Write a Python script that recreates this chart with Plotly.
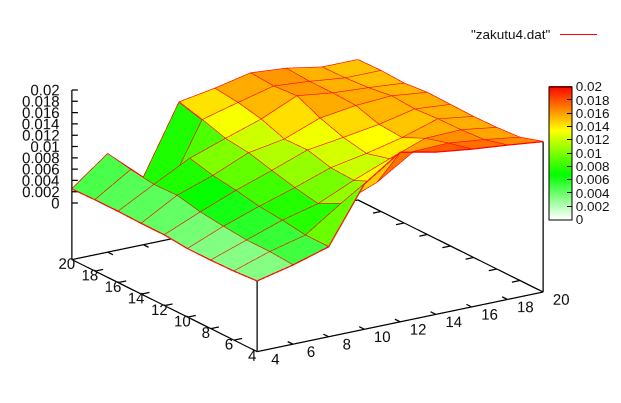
import plotly.graph_objects as go

x_values = [4, 6, 8, 10, 12, 14, 16, 18, 20]
y_values = [4, 6, 8, 10, 12, 14, 16, 18, 20]
# one row per x value, one column per y value
z_x4 = [.0025, .0022, .0021, .0021, .0025, .0025, .0026, .0026, .0025]
z_x6 = [.0040, .0043, .0043, .0047, .0052, .0061, .0060, .0066, .0074]
z_x8 = [.0059, .0059, .0065, .0069, .0077, .0083, .0093, .0011, .0019]
z_x10 = [.0157, .0102, .0081, .0089, .0099, .0110, .0115, .0128, .0139]
z_x12 = [.0200, .0127, .0109, .0111, .0122, .0121, .0136, .0145, .0150]
z_x14 = [.0187, .0167, .0134, .0123, .0131, .0145, .0164, .0161, .0164]
z_x16 = [.0179, .0169, .0157, .0138, .0141, .0154, .0156, .0156, .0159]
z_x18 = [.0173, .0162, .0159, .0158, .0155, .0158, .0152, .0149, .0148]
z_x20 = [.0166, .0153, .0150, .0149, .0150, .0151, .0147, .0149, .0148]
z_rows = [z_x4, z_x6, z_x8, z_x10, z_x12, z_x14, z_x16, z_x18, z_x20]
z_ticks = [0, .002, .004, .006, .008, .01, .012, .014, .016, .018, .02]
z_labels = ["0", "0.002", "0.004", "0.006", "0.008", "0.01", "0.012", "0.014", "0.016", "0.018", "0.02"]
xy_ticks = [4, 6, 8, 10, 12, 14, 16, 18, 20]
z_floor = -0.01
series_name = '"zakutu4.dat"'

FONT = "Liberation Sans"
TEXT = "#111111"
nx, ny = len(x_values), len(y_values)
vx, vy, vz = [], [], []
for i in range(nx):
    for j in range(ny):
        vx.append(x_values[i]); vy.append(y_values[j]); vz.append(z_rows[i][j])
fi, fj, fk, cell = [], [], [], []
for i in range(nx - 1):
    for j in range(ny - 1):
        a = i * ny + j; b = (i + 1) * ny + j; c = (i + 1) * ny + j + 1; d = i * ny + j + 1
        m = (z_rows[i][j] + z_rows[i + 1][j] + z_rows[i + 1][j + 1] + z_rows[i][j + 1]) / 4
        fi += [a, a]; fj += [b, c]; fk += [c, d]; cell += [m, m]

scale = [[0, "#ffffff"], [1 / 3, "#00ff00"], [2 / 3, "#ffff00"], [1, "#ff0000"]]
fig = go.Figure()
fig.add_trace(go.Mesh3d(
    x=vx, y=vy, z=vz, i=fi, j=fj, k=fk, intensity=cell, intensitymode="cell",
    colorscale=scale, cmin=0, cmax=.02, flatshading=True, hoverinfo="skip",
    lighting=dict(ambient=1, diffuse=0, specular=0, roughness=1, fresnel=0),
    colorbar=dict(
        xref="container", yref="container", x=549 / 621, xanchor="left",
        y=1 - 153 / 403, yanchor="middle", lenmode="pixels", len=133, thickness=23,
        outlinecolor="black", outlinewidth=1, xpad=0, ypad=0, borderwidth=0,
        tickvals=z_ticks, ticktext=z_labels, ticks="inside", ticklen=5, tickcolor="black",
        tickfont=dict(family=FONT, size=13.5, color=TEXT),
    ),
))
lx, ly, lz = [], [], []
for i in range(nx):
    for j in range(ny):
        lx.append(x_values[i]); ly.append(y_values[j]); lz.append(z_rows[i][j])
    lx.append(None); ly.append(None); lz.append(None)
for j in range(ny):
    for i in range(nx):
        lx.append(x_values[i]); ly.append(y_values[j]); lz.append(z_rows[i][j])
    lx.append(None); ly.append(None); lz.append(None)
fig.add_trace(go.Scatter3d(x=lx, y=ly, z=lz, mode="lines", line=dict(color="#ff0000", width=2.5),
                           name=series_name, showlegend=False, hoverinfo="skip"))
x0, x1, y0, y1 = x_values[0], x_values[-1], y_values[0], y_values[-1]
bx = [x0, x1, x1, x0, x0, None, x0, x0, None, x1, x1, None, x0, x0]
by = [y0, y0, y1, y1, y0, None, y0, y0, None, y0, y0, None, y1, y1]
bz = [z_floor] * 5 + [None, z_floor, z_rows[0][0], None, z_floor, z_rows[-1][0], None, z_floor, z_ticks[-1]]
# tick marks on all four floor edges and on the z axis
tick_run = 0.45
for t in xy_ticks[1:-1]:
    bx += [None, t, t, None, t, t, None, x0, x0 + tick_run, None, x1, x1 - tick_run]
    by += [None, y0, y0 + tick_run, None, y1, y1 - tick_run, None, t, t, None, t, t]
    bz += [None, z_floor, z_floor, None, z_floor, z_floor, None, z_floor, z_floor, None, z_floor, z_floor]
for t in z_ticks:
    bx += [None, x0, x0 + .24]
    by += [None, y1, y1 - .15]
    bz += [None, t, t]
fig.add_trace(go.Scatter3d(x=bx, y=by, z=bz, mode="lines", line=dict(color="black", width=2.5),
                           showlegend=False, hoverinfo="skip"))
label_font = dict(family=FONT, size=15, color=TEXT)
fig.add_trace(go.Scatter3d(
    x=[t + .13 for t in xy_ticks], y=[y0 - 1.36 for t in xy_ticks], z=[z_floor] * len(xy_ticks),
    mode="text", text=[str(t) for t in xy_ticks], textposition="middle center",
    textfont=label_font, showlegend=False, hoverinfo="skip"))
fig.add_trace(go.Scatter3d(
    x=[x0 - .51] * len(xy_ticks), y=[t - .35 for t in xy_ticks], z=[z_floor] * len(xy_ticks),
    mode="text", text=[str(t) for t in xy_ticks], textposition="middle center",
    textfont=label_font, showlegend=False, hoverinfo="skip"))
fig.add_trace(go.Scatter3d(
    x=[x0 + .08] * len(z_ticks), y=[y1 - .05] * len(z_ticks), z=z_ticks,
    mode="text", text=z_labels, textposition="middle left",
    textfont=label_font, showlegend=False, hoverinfo="skip"))

hidden = dict(visible=False, showgrid=False, showbackground=False, zeroline=False, showline=False,
              showticklabels=False, ticks="", showspikes=False, title=dict(text=""))

# left-hand tick marks of the colour bar, the right-hand ones are the bar's own
bar_top, bar_bottom = 86.5, 219.5
left_ticks = [dict(type="line", xref="paper", yref="paper", x0=549 / 621, x1=554 / 621,
                   y0=1 - (bar_bottom - (bar_bottom - bar_top) * t / z_ticks[-1]) / 403,
                   y1=1 - (bar_bottom - (bar_bottom - bar_top) * t / z_ticks[-1]) / 403,
                   line=dict(color="black", width=1)) for t in z_ticks[1:-1]]

fig.update_layout(
    width=621, height=403, margin=dict(l=0, r=0, t=0, b=0, autoexpand=False), paper_bgcolor="white",
    showlegend=False,
    scene=dict(
        domain=dict(x=[0, .99], y=[.053, 1]),
        xaxis=dict(hidden, range=[2, 22]),
        yaxis=dict(hidden, range=[2, 22]),
        zaxis=dict(hidden, range=[-.012, .022]),
        aspectmode="manual", aspectratio=dict(x=2.23, y=2.23, z=1.063),
        camera=dict(projection=dict(type="orthographic"), up=dict(x=0, y=0, z=1),
                    center=dict(x=0, y=0, z=0), eye=dict(x=-1.03, y=-1.59, z=.644)),
    ),
    annotations=[dict(text=series_name, xref="paper", yref="paper", x=553 / 621, y=1 - 34 / 403,
                      xanchor="right", yanchor="middle", showarrow=False,
                      font=dict(family=FONT, size=13.5, color=TEXT))],
    shapes=[dict(type="line", xref="paper", yref="paper", x0=560 / 621, x1=597 / 621,
                 y0=1 - 34.5 / 403, y1=1 - 34.5 / 403, line=dict(color="#ff0000", width=1))] + left_ticks,
)
fig.write_html("out.html", config=dict(displayModeBar=False), post_script="document.body.style.margin='0';")
